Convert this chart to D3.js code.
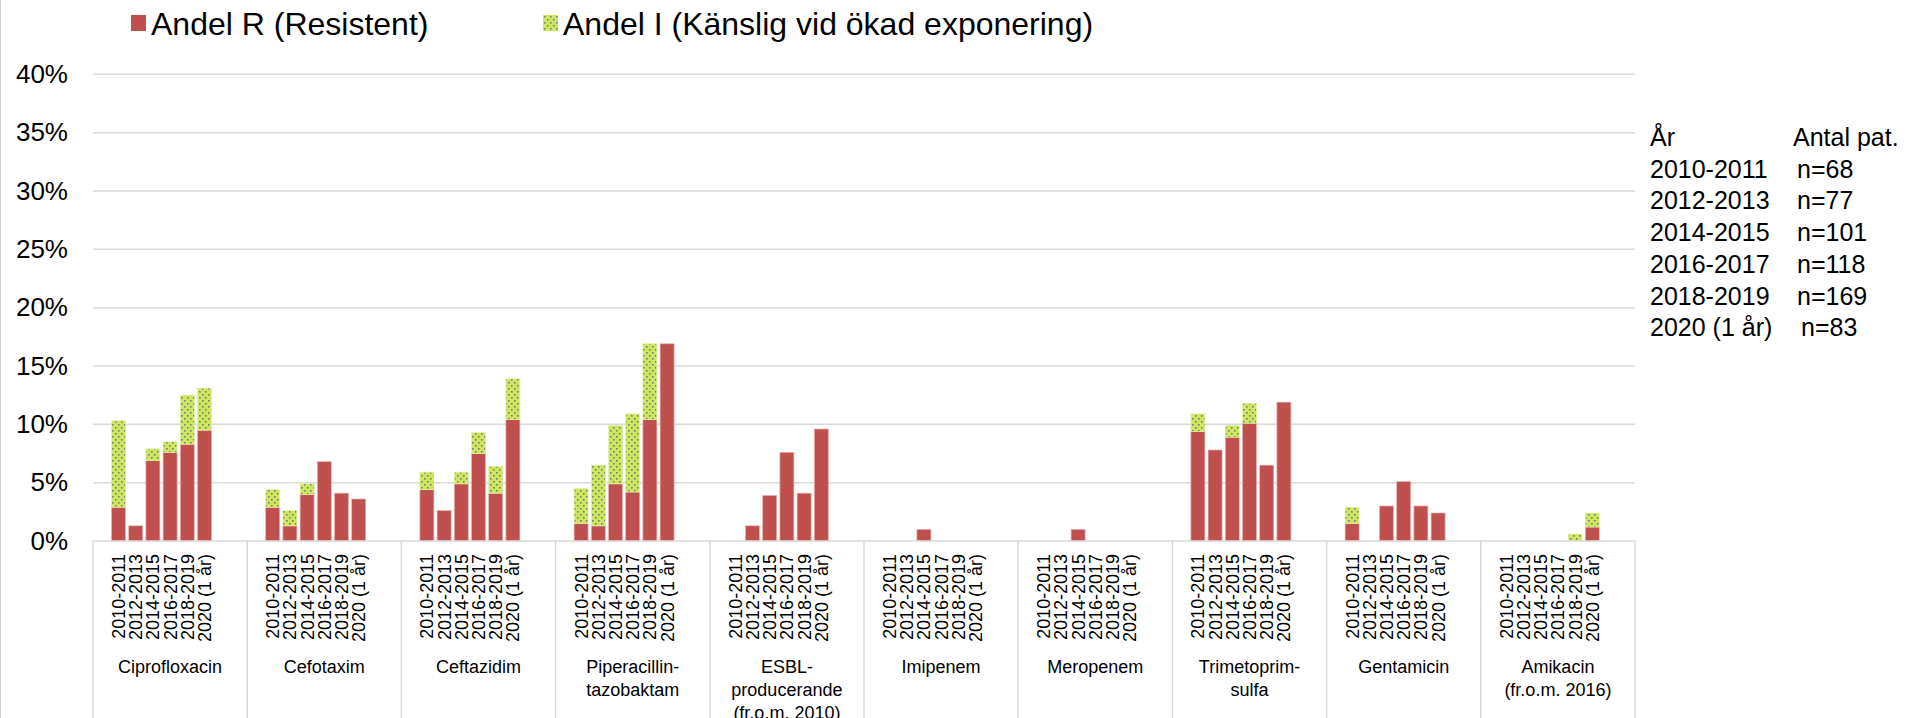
<!DOCTYPE html>
<html>
<head>
<meta charset="utf-8">
<script src="https://cdn.jsdelivr.net/npm/d3@7"></script>
<style>
  body { margin: 0; background: #fff; }
  text { font-family: "Liberation Sans", Arial, sans-serif; fill: #000; }
</style>
</head>
<body>
<script>
// data
const periods = ["2010-2011", "2012-2013", "2014-2015", "2016-2017", "2018-2019", "2020 (1 år)"];
const categories = ["Ciprofloxacin", "Cefotaxim", "Ceftazidim", "Piperacillin-tazobaktam",
  "ESBL-producerande (fr.o.m. 2010)", "Imipenem", "Meropenem", "Trimetoprim-sulfa",
  "Gentamicin", "Amikacin (fr.o.m. 2016)"];
const categoryLines = [["Ciprofloxacin"], ["Cefotaxim"], ["Ceftazidim"], ["Piperacillin-", "tazobaktam"],
  ["ESBL-", "producerande", "(fr.o.m. 2010)"], ["Imipenem"], ["Meropenem"], ["Trimetoprim-", "sulfa"],
  ["Gentamicin"], ["Amikacin", "(fr.o.m. 2016)"]];
// share R (resistent), percent, one row per category, one value per period
const shareR = [
  [2.9, 1.3, 6.9, 7.6, 8.3, 9.5],
  [2.9, 1.3, 4.0, 6.8, 4.1, 3.6],
  [4.4, 2.6, 4.9, 7.5, 4.1, 10.4],
  [1.5, 1.3, 4.9, 4.2, 10.4, 16.9],
  [0, 1.3, 3.9, 7.6, 4.1, 9.6],
  [0, 0, 1.0, 0, 0, 0],
  [0, 0, 1.0, 0, 0, 0],
  [9.4, 7.8, 8.9, 10.1, 6.5, 11.9],
  [1.5, 0, 3.0, 5.1, 3.0, 2.4],
  [0, 0, 0, 0, 0, 1.2]
];
// share I (känslig vid ökad exponering), percent, stacked on R
const shareI = [
  [7.4, 0, 1.0, 0.9, 4.2, 3.6],
  [1.5, 1.3, 0.9, 0, 0, 0],
  [1.5, 0, 1.0, 1.8, 2.3, 3.5],
  [3.0, 5.2, 5.0, 6.7, 6.5, 0],
  [0, 0, 0, 0, 0, 0],
  [0, 0, 0, 0, 0, 0],
  [0, 0, 0, 0, 0, 0],
  [1.5, 0, 1.0, 1.7, 0, 0],
  [1.4, 0, 0, 0, 0, 0],
  [0, 0, 0, 0, 0.6, 1.2]
];
const yTicks = [0, 0.05, 0.10, 0.15, 0.20, 0.25, 0.30, 0.35, 0.40];
const legendLabels = ["Andel R (Resistent)", "Andel I (Känslig vid ökad exponering)"];
const tableHeader = ["År", "Antal pat."];
const tablePeriods = ["2010-2011", "2012-2013", "2014-2015", "2016-2017", "2018-2019", "2020 (1 år)"];
const tableCounts = ["n=68", "n=77", "n=101", "n=118", "n=169", "n=83"];

const W = 1908, H = 718;
const plot = { left: 93, right: 1635, top: 74.3, bottom: 541 };
const red = "#c0504d", green = "#cde85f", grid = "#d9d9d9";

const svg = d3.select("body").append("svg")
  .attr("width", W).attr("height", H);

// dotted fill used for the I share
const defs = svg.append("defs");
const pat = defs.append("pattern")
  .attr("id", "dots").attr("patternUnits", "userSpaceOnUse")
  .attr("width", 6).attr("height", 6);
pat.append("rect").attr("width", 6).attr("height", 6).attr("fill", green);
pat.append("rect").attr("x", 1).attr("y", 1).attr("width", 1.6).attr("height", 1.6).attr("fill", "#7a7a7a");
pat.append("rect").attr("x", 4).attr("y", 4).attr("width", 1.6).attr("height", 1.6).attr("fill", "#7a7a7a");

// left border line of the picture
svg.append("line")
  .attr("x1", 0.5).attr("x2", 0.5).attr("y1", 0).attr("y2", H)
  .attr("stroke", "#d0d0d0").attr("stroke-width", 1);

const x0 = d3.scaleBand().domain(categories).range([plot.left, plot.right]);
// 7 slots per category, the last stays empty
const x1 = d3.scaleBand().domain(periods.concat(["_"]))
  .range([0, x0.bandwidth()]).paddingInner(0.186).paddingOuter(1.0755);
const y = d3.scaleLinear().domain([0, 0.40]).range([plot.bottom, plot.top]);

// gridlines
svg.append("g").selectAll("line")
  .data(yTicks.slice(1))
  .enter().append("line")
  .attr("x1", plot.left).attr("x2", plot.right)
  .attr("y1", d => y(d)).attr("y2", d => y(d))
  .attr("stroke", grid).attr("stroke-width", 1.5);

// y axis labels
const yAxis = d3.axisLeft(y).tickValues(yTicks).tickFormat(d3.format(".0%"))
  .tickSize(0).tickPadding(25);
const yG = svg.append("g").attr("transform", "translate(" + plot.left + ",0)").call(yAxis);
yG.select(".domain").remove();
yG.selectAll("text")
  .style("font-family", "Liberation Sans, Arial, sans-serif")
  .style("font-size", "26px").attr("fill", "#000");

// bars
const rows = [];
categories.forEach((c, ci) => {
  periods.forEach((p, pi) => {
    rows.push({ cat: c, period: p, R: shareR[ci][pi] / 100, I: shareI[ci][pi] / 100 });
  });
});
const stacked = d3.stack().keys(["R", "I"])(rows);
const fills = { R: red, I: "url(#dots)" };

stacked.forEach(layer => {
  svg.append("g").selectAll("rect")
    .data(layer.filter(d => d[1] - d[0] > 0))
    .enter().append("rect")
    .attr("x", d => x0(d.data.cat) + x1(d.data.period))
    .attr("width", x1.bandwidth())
    .attr("y", d => y(d[1]))
    .attr("height", d => y(d[0]) - y(d[1]))
    .attr("fill", fills[layer.key])
    .attr("stroke", layer.key === "R" ? "#e6b3b2" : "#e3f2a8")
    .attr("stroke-width", 0.7);
});

// category axis: baseline and separators
svg.append("line")
  .attr("x1", plot.left).attr("x2", plot.right)
  .attr("y1", plot.bottom).attr("y2", plot.bottom)
  .attr("stroke", grid).attr("stroke-width", 1.5);
const seps = categories.map(c => x0(c)).concat([plot.right]);
svg.append("g").selectAll("line")
  .data(seps).enter().append("line")
  .attr("x1", d => d).attr("x2", d => d)
  .attr("y1", plot.bottom).attr("y2", H)
  .attr("stroke", grid).attr("stroke-width", 1.5);

// period labels, rotated
const labG = svg.append("g");
categories.forEach(c => {
  labG.selectAll(null)
    .data(periods).enter().append("text")
    .attr("transform", p => "translate(" + (x0(c) + x1(p) + x1.bandwidth() / 2) + ",554) rotate(-90)")
    .attr("text-anchor", "end")
    .attr("dy", "0.36em")
    .style("font-size", "18px")
    .text(p => p);
});

// category names
categories.forEach((c, ci) => {
  const t = svg.append("text")
    .attr("x", x0(c) + x0.bandwidth() / 2)
    .attr("y", 673)
    .attr("text-anchor", "middle")
    .style("font-size", "18px");
  categoryLines[ci].forEach((line, li) => {
    t.append("tspan")
      .attr("x", x0(c) + x0.bandwidth() / 2)
      .attr("y", 673 + li * 23)
      .text(line);
  });
});

// legend
const legendX = [131, 543];
const legendFill = [red, "url(#dots)"];
legendLabels.forEach((l, i) => {
  svg.append("rect")
    .attr("x", legendX[i]).attr("y", 15)
    .attr("width", 15).attr("height", 16)
    .attr("fill", legendFill[i]);
  svg.append("text")
    .attr("x", legendX[i] + 20).attr("y", 35)
    .style("font-size", "32px")
    .text(l);
});

// patient count table
const tab = svg.append("g").style("font-size", "25px");
const rowH = 31.7, rowY = 146;
tab.append("text").attr("x", 1650).attr("y", rowY).text(tableHeader[0]);
tab.append("text").attr("x", 1793).attr("y", rowY).text(tableHeader[1]);
tablePeriods.forEach((p, i) => {
  tab.append("text").attr("x", 1650).attr("y", rowY + (i + 1) * rowH).text(p);
  tab.append("text").attr("x", i === 5 ? 1801 : 1797).attr("y", rowY + (i + 1) * rowH).text(tableCounts[i]);
});
</script>
</body>
</html>
